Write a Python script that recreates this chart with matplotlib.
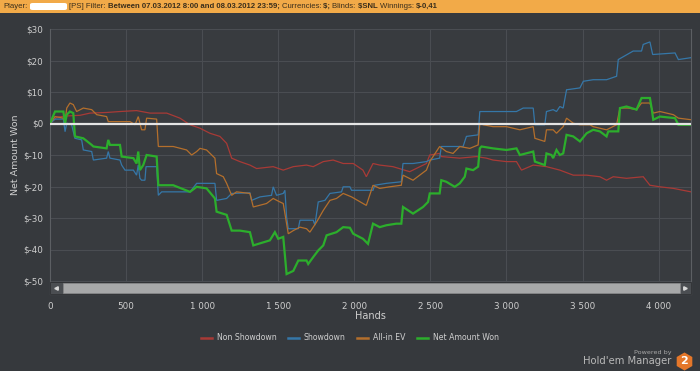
import matplotlib
matplotlib.use("Agg")
import matplotlib.pyplot as plt
from matplotlib.patches import Rectangle, FancyBboxPatch
from matplotlib.lines import Line2D

# ---------------- data ----------------
net_hands = [0, 33, 88, 99, 110, 131, 153, 164, 219, 274, 285, 372, 383, 394, 460, 471, 548, 569, 580, 591,
             613, 635, 701, 712, 810, 920, 964, 1029, 1084, 1095, 1161, 1194, 1248, 1314, 1336, 1445, 1478,
             1500, 1533, 1555, 1599, 1632, 1686, 1697, 1730, 1763, 1796, 1818, 1883, 1927, 1971, 1993, 2057,
             2090, 2123, 2167, 2211, 2276, 2309, 2320, 2386, 2452, 2485, 2496, 2561, 2572, 2605, 2660, 2693,
             2726, 2737, 2781, 2814, 2825, 2836, 2912, 3000, 3066, 3088, 3176, 3187, 3252, 3263, 3296, 3307,
             3329, 3351, 3373, 3395, 3439, 3483, 3527, 3570, 3614, 3658, 3669, 3735, 3746, 3789, 3855, 3888,
             3943, 3954, 3965, 4009, 4108, 4130, 4213]
net_won = [0, 3.8, 3.8, 0, 2.8, 3.8, 3.3, -4.1, -4.7, -6.8, -7.3, -7.9, -5.2, -6.8, -6.8, -10.5, -11, -12.7,
           -8.9, -14.8, -13.2, -10, -10.5, -19.6, -19.6, -21.7, -20.1, -20.6, -23.8, -28, -29, -34, -34, -34.5,
           -38.7, -37.1, -34.5, -36.6, -36, -47.8, -46.8, -43.5, -43.5, -44.6, -42.4, -40.3, -38.7, -35.5,
           -34.5, -32.9, -33.1, -35, -36.6, -38.2, -31.8, -32.9, -32.3, -31.8, -31.8, -26.5, -28.6, -26.5,
           -24.9, -22.2, -22.2, -18, -18.5, -20.1, -19, -16.9, -14.3, -14.8, -13.7, -7.9, -7.3, -7.9, -8.4,
           -7.9, -10, -8.9, -12.1, -13.2, -9.5, -10, -11, -8.4, -10, -9.5, -3.6, -4.1, -5.7, -3.1, -2, -2.5,
           -4.1, -2.5, -2.5, 4.9, 5.4, 4.4, 8.1, 8.1, 4.9, 1.2, 2.2, 1.7, -0.4, -0.41]

sd_hands = [0, 33, 88, 99, 110, 142, 164, 208, 219, 274, 285, 372, 383, 394, 460, 471, 493, 548, 569, 580,
            591, 602, 624, 631, 701, 712, 734, 920, 964, 1084, 1095, 1161, 1194, 1314, 1325, 1380, 1456, 1467,
            1489, 1533, 1544, 1555, 1566, 1632, 1643, 1730, 1741, 1763, 1807, 1840, 1916, 1927, 1971, 1982,
            2123, 2134, 2211, 2309, 2320, 2386, 2474, 2496, 2561, 2572, 2715, 2737, 2814, 2825, 3066, 3110,
            3176, 3187, 3252, 3263, 3307, 3329, 3351, 3373, 3395, 3483, 3505, 3570, 3658, 3724, 3735, 3833,
            3888, 3899, 3943, 3961, 4108, 4130, 4213]
sd_won = [0, 1.4, 1.4, -2.6, 0.1, -0.4, -4.7, -5.2, -8.4, -8.9, -11.6, -11, -8.9, -11, -11.6, -13.2, -14.8,
          -14.8, -16.4, -13.2, -17.4, -18, -18, -13.7, -13.7, -22.8, -21.7, -21.7, -19, -19, -24.4, -23.8,
          -22.2, -22, -24.4, -23.3, -22.8, -20.1, -22.8, -22.2, -21.2, -29.7, -33.4, -33.4, -30.7, -30.7,
          -32.3, -24.9, -24.4, -22.2, -21.7, -20.1, -20.1, -21.2, -21.2, -19.6, -19, -18.5, -12.7, -12.7,
          -12.1, -11.6, -11, -7.3, -7.3, -4.1, -3.6, 3.8, 3.8, 4.9, 4.9, -0.4, -0.4, 3.8, 4.4, 3.8, 5.4, 4.9,
          10.7, 11.3, 13.4, 13.9, 13.9, 15, 20.3, 23, 23, 25.1, 25.9, 21.9, 22.4, 20.3, 20.9]

ev_hands = [0, 33, 88, 99, 110, 131, 153, 175, 219, 274, 307, 372, 383, 460, 526, 559, 580, 602, 624, 635,
            701, 712, 810, 898, 931, 964, 986, 1029, 1084, 1095, 1139, 1161, 1194, 1226, 1314, 1336, 1423,
            1467, 1511, 1533, 1555, 1566, 1599, 1643, 1686, 1708, 1752, 1796, 1840, 1883, 1927, 1982, 2079,
            2123, 2167, 2232, 2309, 2320, 2386, 2474, 2496, 2561, 2605, 2649, 2693, 2759, 2814, 2825, 2847,
            2912, 3000, 3088, 3176, 3187, 3252, 3263, 3307, 3329, 3373, 3395, 3439, 3483, 3549, 3570, 3658,
            3724, 3746, 3800, 3855, 3888, 3943, 3965, 4009, 4097, 4130, 4213]
ev_won = [0, 2.2, 1.7, 0.6, 4.9, 6.5, 6, 3.8, 4.9, 4.4, 2.8, 2.2, 0.6, 0.6, 0.6, -0.4, 2.2, -2, -2, 1.7,
          1.4, -7.3, -7.3, -8.4, -10, -8.9, -7.9, -8.4, -11, -15.9, -16.9, -19, -22.8, -21.7, -22.2, -26.5,
          -25.4, -23.8, -24.9, -25.4, -31.8, -35, -34, -32.9, -33.4, -34.5, -31.3, -27.6, -24.4, -23.8,
          -22.2, -23.3, -26, -19.6, -20.6, -20.1, -19.6, -16.4, -18, -14.8, -12.1, -7.3, -8.9, -9.5, -7.3,
          -7.9, -6.8, 0.1, -0.4, -1, -1, -2, -1, -4.7, -5.7, -2, -2, -3.1, -1, 1.7, 0.1, -0.4, -0.4, -1, -2,
          -0.4, 4.9, 4.9, 4.4, 6.5, 6.5, 3.3, 3.8, 2.8, 1.7, 1.2]

nsd_hands = [0, 44, 110, 197, 263, 372, 460, 569, 657, 767, 854, 920, 986, 1051, 1117, 1161, 1194, 1248,
             1314, 1358, 1467, 1533, 1599, 1686, 1730, 1796, 1861, 1927, 1993, 2057, 2079, 2123, 2167, 2254,
             2364, 2474, 2496, 2561, 2572, 2693, 2803, 2868, 2912, 3000, 3066, 3099, 3176, 3263, 3351, 3439,
             3527, 3614, 3658, 3702, 3789, 3899, 3943, 4009, 4097, 4213]
nsd_won = [0, 2, 2.4, 2.6, 3.3, 3.5, 3.8, 4.1, 3.3, 3.3, 1.7, -0.4, -1.5, -3.1, -4.1, -6.3, -11, -12.1,
           -13.2, -14.3, -13.7, -14.8, -13.7, -13.2, -13.7, -12.1, -11.6, -12.7, -12.7, -14.8, -16.9, -12.7,
           -13.2, -13.7, -15.3, -12.7, -10, -9.5, -10.5, -11, -10.5, -11, -11.6, -12.1, -12.1, -14.8, -13.2,
           -13.7, -14.8, -16.4, -16.4, -16.9, -18, -16.9, -17.4, -16.9, -19.6, -20.1, -20.6, -21.7]

series_names = ["Non Showdown", "Showdown", "All-in EV", "Net Amount Won"]
y_ticks = [30, 20, 10, 0, -10, -20, -30, -40, -50]
y_labels = ["$30", "$20", "$10", "$0", "$-10", "$-20", "$-30", "$-40", "$-50"]
x_ticks = [0, 500, 1000, 1500, 2000, 2500, 3000, 3500, 4000]
x_labels = ["0", "500", "1 000", "1 500", "2 000", "2 500", "3 000", "3 500", "4 000"]
header_parts = [("[PS] Filter: ", "normal"),
                ("Between 07.03.2012 8:00 and 08.03.2012 23:59; ", "bold"),
                ("Currencies: ", "normal"), ("$; ", "bold"),
                ("Blinds: ", "normal"), ("$SNL ", "bold"),
                ("Winnings: ", "normal"), ("$-0,41", "bold")]

# ---------------- style ----------------
BG = "#36393d"
PLOT_BG = "#383b3f"
GRID = "#4a4d52"
TXT = "#cfcfcf"
colors = ["#a83a36", "#3577a8", "#b46f2c", "#2cae2c"]
W, H = 700, 371

fig = plt.figure(figsize=(7.0, 3.71), dpi=100, facecolor=BG)

def fx(px):
    return px / W

def fy(py):
    return 1 - py / H

ax_left, ax_right, ax_top, ax_bot = 50, 691, 29, 294
ax = fig.add_axes([fx(ax_left), fy(ax_bot), fx(ax_right - ax_left), (ax_bot - ax_top) / H])
ax.set_facecolor(PLOT_BG)

px_per_dollar = (281 - 29) / 80.0
ax.set_ylim(-50 - (ax_bot - 281) / px_per_dollar, 30)
ax.set_xlim(0, 4213)

for s in ax.spines.values():
    s.set_color("#5c5f63")
    s.set_linewidth(0.8)
ax.spines["top"].set_visible(False)

ax.set_yticks(y_ticks)
ax.set_yticklabels(y_labels)
ax.set_xticks(x_ticks)
ax.set_xticklabels(x_labels)
ax.tick_params(axis="both", length=0, colors=TXT, labelsize=6.3, pad=5)
ax.tick_params(axis="x", pad=6)
ax.grid(True, color=GRID, linewidth=0.8)
ax.set_axisbelow(True)

def trim(a, b):
    n = min(len(a), len(b))
    return a[:n], b[:n]

data = [(nsd_hands, nsd_won), (sd_hands, sd_won), (ev_hands, ev_won), (net_hands, net_won)]
widths = [0.9, 0.9, 0.9, 1.6]
for (hx, hy), c, lw in zip(data, colors, widths):
    hx, hy = trim(hx, hy)
    ax.plot(hx, hy, color=c, linewidth=lw, zorder=3, solid_joinstyle="miter")

ax.axhline(0, color="#e4e4e4", linewidth=1.6, zorder=4)

# scrollbar
sb_h = (ax_bot - 282) / (ax_bot - ax_top)
ax.add_patch(Rectangle((0, 0), 1, sb_h, transform=ax.transAxes, facecolor="#4b4e52",
                       edgecolor="#2e3033", linewidth=0.6, zorder=5, clip_on=False))
tw0 = (63 - ax_left) / (ax_right - ax_left)
tw1 = (680 - ax_left) / (ax_right - ax_left)
ax.add_patch(Rectangle((tw0, sb_h * 0.12), tw1 - tw0, sb_h * 0.76, transform=ax.transAxes,
                       facecolor="#a7a8a9", edgecolor="#8a8b8c", linewidth=0.4, zorder=6))
ax.plot([0.01], [sb_h / 2], marker="<", markersize=2.5, color="#d8d8d8", transform=ax.transAxes,
        zorder=7, clip_on=False)
ax.plot([0.991], [sb_h / 2], marker=">", markersize=2.5, color="#d8d8d8", transform=ax.transAxes,
        zorder=7, clip_on=False)

# labels
fig.text(fx(370), fy(316), "Hands", ha="center", va="center", color=TXT, fontsize=7)
fig.text(fx(16), fy(155), "Net Amount Won", ha="center", va="center", rotation=90, color=TXT, fontsize=6.8)

# legend
handles = [Line2D([0], [0], color=c, linewidth=1.8) for c in colors]
leg = fig.legend(handles, series_names, loc="center", bbox_to_anchor=(fx(350), fy(338)), ncol=4,
                 frameon=False, fontsize=5.6, handlelength=1.4, handletextpad=0.6, columnspacing=1.5)
for t in leg.get_texts():
    t.set_color(TXT)

# header bar
fig.patches.append(Rectangle((0, fy(12.7)), 1, 12.7 / H, transform=fig.transFigure,
                             facecolor="#f2aa48", edgecolor="none", zorder=0))
hfont = ["Liberation Sans Narrow", "Liberation Sans", "DejaVu Sans"]
HC = "#3a2e1c"
fig.text(fx(3), fy(6.3), "Player:", ha="left", va="center", fontsize=5.6, color=HC, family=hfont)
fig.patches.append(FancyBboxPatch((fx(30), fy(10)), fx(37), 7 / H, boxstyle="round,pad=0,rounding_size=0.004",
                                  transform=fig.transFigure, facecolor="#ffffff", edgecolor="none", zorder=1))
fig.canvas.draw()
renderer = fig.canvas.get_renderer()
xpos = 69.0
for txt, wt in header_parts:
    t = fig.text(fx(xpos), fy(6.3), txt, ha="left", va="center", fontsize=5.6, color=HC, family=hfont,
                 fontweight=wt)
    bb = t.get_window_extent(renderer=renderer)
    xpos += bb.width

# logo
fig.text(fx(672), fy(352.5), "Powered by", ha="right", va="center", fontsize=4.6, color="#a8a8a8")
fig.text(fx(671), fy(361), "Hold'em Manager", ha="right", va="center", fontsize=7.2, color="#b8b8b8")
fig.add_artist(Line2D([fx(684)], [fy(361)], marker="h", markersize=13, color="#e5772a",
                      markeredgewidth=0, linestyle="none", transform=fig.transFigure))
fig.text(fx(684), fy(361.5), "2", ha="center", va="center", fontsize=8, color="white", fontweight="bold")

fig.savefig("out.png", dpi=100, facecolor=BG)
